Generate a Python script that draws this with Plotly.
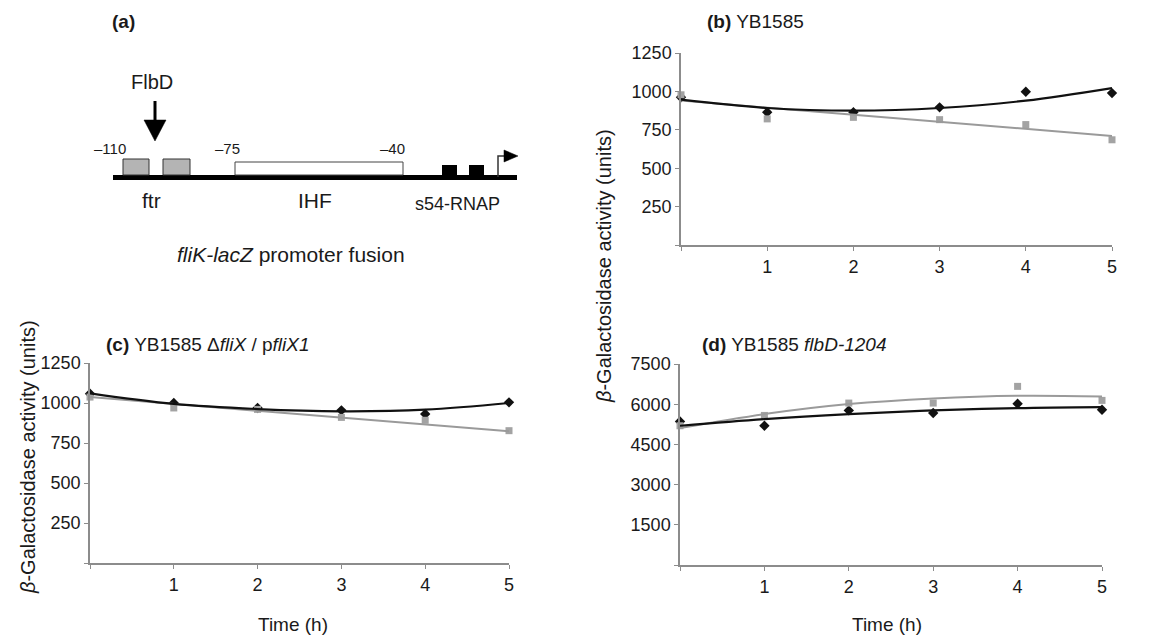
import plotly.graph_objects as go

W, H = 1150, 639
PAGE_OFFSET = 8  # the html body has an 8 px margin
FONT = "Liberation Sans, Arial, sans-serif"
AXIS_GREY = "#8c8c8c"
SQ_GREY = "#a3a3a3"
LINE_GREY = "#9a9a9a"

# time points (h)
hours = [0, 1, 2, 3, 4, 5]
fit_ends = [0, 5]
x_tickvals = [0, 1, 2, 3, 4, 5]
x_ticktext = ["", "1", "2", "3", "4", "5"]

# (b) YB1585
b_black = [962, 864, 864, 896, 998, 989]
b_gray = [978, 821, 831, 816, 784, 685]
b_black_fit = [946, 892, 875, 892, 940, 1022]
b_gray_fit = [940, 710]

# (c) YB1585 dfliX / pfliX1
c_black = [1058, 1000, 969, 954, 931, 1004]
c_gray = [1037, 969, 960, 910, 892, 827]
c_black_fit = [1060, 994, 962, 948, 958, 1000]
c_gray_fit = [1037, 823]

# (d) YB1585 flbD-1204
d_black = [5357, 5195, 5768, 5669, 6017, 5793]
d_gray = [5195, 5581, 6042, 6042, 6665, 6142]
d_black_fit = [5195, 5444, 5631, 5768, 5855, 5893]
d_gray_fit = [5108, 5631, 6005, 6217, 6316, 6291]

bc_yticks = [0, 250, 500, 750, 1000, 1250]
d_yticks = [0, 1500, 3000, 4500, 6000, 7500]


# screen pixel -> paper fraction
def px(x):
    return (x - PAGE_OFFSET) / W


def py(y):
    return 1 - (y - PAGE_OFFSET) / H


def ann(x, y, text, size, xanchor="center", angle=0, color="#1a1a1a"):
    return dict(xref="paper", yref="paper", x=px(x), y=py(y), text=text,
                showarrow=False, xanchor=xanchor, yanchor="middle",
                textangle=angle, font=dict(family=FONT, size=size, color=color))


def rect(x0, y0, x1, y1, fill, line="#555555", lw=1):
    return dict(type="rect", xref="paper", yref="paper",
                x0=px(x0), x1=px(x1), y0=py(y0), y1=py(y1),
                fillcolor=fill, line=dict(color=line, width=lw))


def path(pts, fill=None, color="#000000", lw=1.5, closed=False):
    d = "M " + " L ".join("%f,%f" % (px(a), py(b)) for a, b in pts)
    if closed:
        d += " Z"
    return dict(type="path", xref="paper", yref="paper", path=d,
                fillcolor=fill if fill else "rgba(0,0,0,0)",
                line=dict(color=color, width=lw))


fig = go.Figure()


def add_panel(n, black, gray, black_fit, gray_fit):
    xa, ya = ("x", "y") if n == 1 else ("x%d" % n, "y%d" % n)
    fig.add_trace(go.Scatter(x=hours, y=black, mode="markers", xaxis=xa, yaxis=ya,
                             marker=dict(symbol="diamond", size=8, color="#111111"),
                             cliponaxis=False))
    fig.add_trace(go.Scatter(x=hours, y=gray, mode="markers", xaxis=xa, yaxis=ya,
                             marker=dict(symbol="square", size=7, color=SQ_GREY),
                             cliponaxis=False))
    gx = fit_ends if len(gray_fit) == 2 else hours
    fig.add_trace(go.Scatter(x=gx, y=gray_fit, mode="lines", xaxis=xa, yaxis=ya,
                             line=dict(color=LINE_GREY, width=2, shape="spline"),
                             cliponaxis=False))
    fig.add_trace(go.Scatter(x=hours, y=black_fit, mode="lines", xaxis=xa, yaxis=ya,
                             line=dict(color="#111111", width=2.2, shape="spline"),
                             cliponaxis=False))


add_panel(1, b_black, b_gray, b_black_fit, b_gray_fit)
add_panel(2, c_black, c_gray, c_black_fit, c_gray_fit)
add_panel(3, d_black, d_gray, d_black_fit, d_gray_fit)


def xaxis(x0, x1, anchor):
    return dict(domain=[px(x0), px(x1)], range=[0, 5], anchor=anchor,
                tickvals=x_tickvals, ticktext=x_ticktext,
                ticks="outside", ticklen=4, tickcolor=AXIS_GREY, tickwidth=1.2,
                showline=True, linecolor=AXIS_GREY, linewidth=1.5,
                showgrid=False, zeroline=False, automargin=False,
                ticklabelstandoff=1,
                tickfont=dict(family=FONT, size=18, color="#1a1a1a"))


def yaxis(top, bottom, ticks, anchor):
    return dict(domain=[py(bottom), py(top)], range=[0, ticks[-1]], anchor=anchor,
                tickvals=ticks, ticktext=[""] + [str(t) for t in ticks[1:]],
                ticks="outside", ticklen=4, tickcolor=AXIS_GREY, tickwidth=1.2,
                showline=True, linecolor=AXIS_GREY, linewidth=1.5,
                showgrid=False, zeroline=False, automargin=False,
                tickfont=dict(family=FONT, size=18, color="#1a1a1a"))


ytitle = "<i>β</i>-Galactosidase activity (units)"

annotations = [
    # panel (a) diagram
    ann(110, 22, "<b>(a)</b>", 19, "left"),
    ann(152, 82, "FlbD", 20),
    ann(110, 148, "–110", 15),
    ann(227, 148, "–75", 15),
    ann(392, 148, "–40", 15),
    ann(151, 200, "ftr", 21),
    ann(315, 200, "IHF", 21),
    ann(457, 204, "s54-RNAP", 18),
    ann(291, 254, "<i>fliK-lacZ</i> promoter fusion", 21),
    # panel titles
    ann(705, 22, "<b>(b)</b> YB1585", 19, "left"),
    ann(104, 345, "<b>(c)</b> YB1585 Δ<i>fliX</i> / p<i>fliX1</i>", 19, "left"),
    ann(700, 345, "<b>(d)</b> YB1585 <i>flbD-1204</i>", 19, "left"),
    # axis titles
    ann(604, 266, ytitle, 20, angle=-90),
    ann(28, 457, ytitle, 20, angle=-90),
    ann(293, 624, "Time (h)", 19),
    ann(887, 624, "Time (h)", 19),
]

shapes = [
    # DNA line
    rect(113, 175, 517, 180, "#000000", "#000000", 0),
    # ftr boxes
    rect(123, 159, 149, 175, "#b4b4b4", "#333333", 1),
    rect(163, 159, 190, 175, "#b4b4b4", "#333333", 1),
    # IHF site
    rect(235, 162, 403, 175, "#ffffff", "#444444", 1),
    # sigma54 boxes
    rect(442, 165, 457, 175, "#000000", "#000000", 0),
    rect(469, 165, 484, 175, "#000000", "#000000", 0),
    # FlbD arrow
    rect(153.5, 101, 156.5, 121, "#000000", "#000000", 0),
    path([(144, 120), (166, 120), (155, 141)], fill="#000000", lw=0.5, closed=True),
    # transcription start bent arrow
    path([(498, 177), (498, 156), (506, 156)], color="#333333", lw=1.5),
    path([(504, 150), (518, 156), (504, 162)], fill="#000000", lw=0.5, closed=True),
]

fig.update_layout(
    template="none",
    width=W, height=H,
    margin=dict(l=0, r=0, t=0, b=0),
    paper_bgcolor="white", plot_bgcolor="white",
    showlegend=False,
    xaxis=xaxis(681, 1112, "y"), yaxis=yaxis(53, 245, bc_yticks, "x"),
    xaxis2=xaxis(90, 509, "y2"), yaxis2=yaxis(363, 563, bc_yticks, "x2"),
    xaxis3=xaxis(680, 1102, "y3"), yaxis3=yaxis(364, 565, d_yticks, "x3"),
    annotations=annotations,
    shapes=shapes,
)

fig.write_html("out.html")
